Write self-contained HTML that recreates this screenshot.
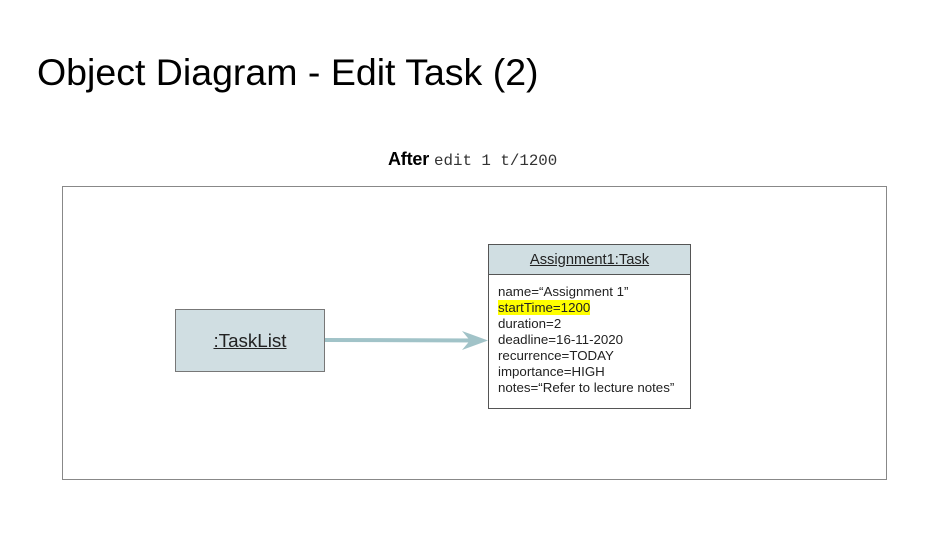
<!DOCTYPE html>
<html><head><meta charset="utf-8"><style>
body{margin:0;width:942px;height:534px;background:#fff;position:relative;overflow:hidden;font-family:"Liberation Sans",Arial,sans-serif;}
.abs{position:absolute}
</style></head><body>
<div class="abs" style="left:37px;top:50px;font-size:37.5px;line-height:44px;color:#000;white-space:nowrap">Object Diagram - Edit Task (2)</div>
<div class="abs" style="left:388px;top:149px;font-size:18px;line-height:20px;white-space:nowrap"><b style="letter-spacing:-0.2px">After</b> <span style="font-family:'Liberation Mono',monospace;font-size:15.8px;color:#333">edit 1 t/1200</span></div>
<div class="abs" style="left:62px;top:186px;width:823px;height:292px;border:1px solid #888"></div>
<div class="abs" style="left:175px;top:309px;width:148px;height:61px;border:1px solid #777;background:#d0dee2;text-align:center;line-height:61px;font-size:18.8px;color:#222"><u>:TaskList</u></div>
<svg class="abs" style="left:0;top:0" width="942" height="534">
<line x1="325" y1="340" x2="478" y2="340.5" stroke="#a1c3c8" stroke-width="4"/>
<path d="M462,331 L488,340.5 L462,350 L470,340.5 Z" fill="#a1c3c8"/>
</svg>
<div class="abs" style="left:488px;top:244px;width:201px;height:163px;border:1px solid #555;background:#fff">
<div style="height:29px;background:#d0dee2;border-bottom:1px solid #555;text-align:center;line-height:31px;font-size:14.7px;color:#222"><u>Assignment1:Task</u></div>
<div style="padding:9px 0 0 9px;font-size:13.3px;line-height:16px;color:#222;white-space:nowrap">
name=“Assignment 1”<br><span style="background:#ffff00">startTime=1200</span><br>duration=2<br>deadline=16-11-2020<br>recurrence=TODAY<br>importance=HIGH<br>notes=“Refer to lecture notes”
</div></div>
</body></html>
